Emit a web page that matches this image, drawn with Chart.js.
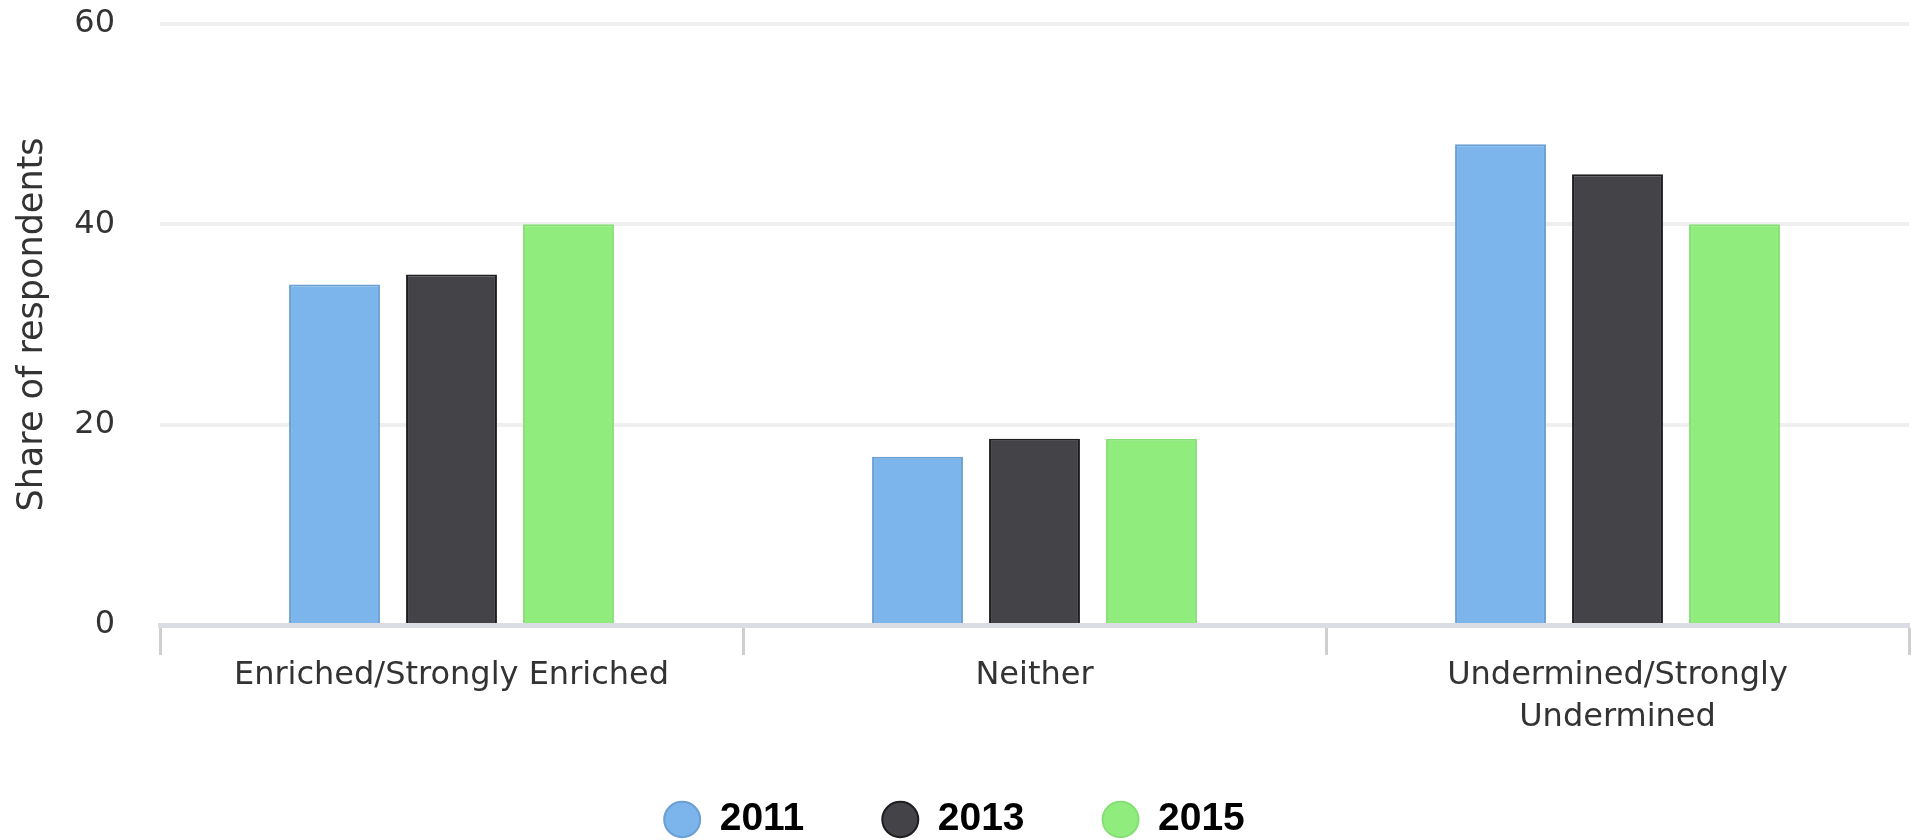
<!DOCTYPE html>
<html>
<head>
<meta charset="utf-8">
<title>Share of respondents</title>
<script src="https://cdn.jsdelivr.net/npm/chart.js@4"></script>
<style>
    html, body { margin: 0; padding: 0; background: #fff; }
    #wrap { width: 1919px; height: 840px; }
</style>
</head>
<body>
<div id="wrap"><canvas id="respChart"></canvas></div>
<script>
const categories = ['Enriched/Strongly Enriched', 'Neither', ['Undermined/Strongly', 'Undermined']];
const years = ['2011', '2013', '2015'];
const values2011 = [34, 16.8, 48];
const values2013 = [35, 18.6, 45];
const values2015 = [40, 18.6, 40];
const yTicks = [0, 20, 40, 60];

const colores = ['#7cb5ec', '#434348', '#90ed7d'];
const bordes = ['#6a9fd3', '#1e1e21', '#86df74'];

// la leyenda usa padding grande para separar los items, la subimos un poco
const subirLeyenda = {
    id: 'subirLeyenda',
    afterLayout(chart) {
        chart.legend.top -= 18;
    }
};

const ctx = document.getElementById('respChart');

new Chart(ctx.getContext('2d'), {
    type: 'bar',
    data: {
        labels: categories,
        datasets: [values2011, values2013, values2015].map((serie, i) => ({
            label: years[i],
            data: serie,
            backgroundColor: colores[i],
            borderColor: bordes[i],
            borderWidth: 2,
            categoryPercentage: 0.602,
            barPercentage: 0.777
        }))
    },
    plugins: [subirLeyenda],
    options: {
        responsive: true,
        maintainAspectRatio: false,
        animation: false,
        layout: {
            padding: { top: 24, right: 10, bottom: 0, left: 0 }
        },
        plugins: {
            tooltip: { enabled: false },
            legend: {
                position: 'bottom',
                maxHeight: 100,
                labels: {
                    usePointStyle: true,
                    pointStyle: 'circle',
                    pointStyleWidth: 36,
                    boxHeight: 25,
                    padding: 78,
                    color: '#000',
                    font: { family: 'Liberation Sans', size: 39, weight: 'bold' }
                }
            }
        },
        scales: {
            x: {
                grid: {
                    offset: true,
                    drawOnChartArea: false,
                    drawTicks: true,
                    tickLength: 30,
                    tickWidth: 3,
                    tickColor: '#cfcfcf'
                },
                border: { display: true, color: '#dcdde2', width: 5 },
                ticks: {
                    color: '#333',
                    padding: 0,
                    maxRotation: 0,
                    font: { family: 'DejaVu Sans', size: 32, lineHeight: 1.3 }
                },
                afterFit: (scale) => { scale.height = 115; }
            },
            y: {
                min: 0,
                max: 60,
                afterBuildTicks: (scale) => {
                    scale.ticks = yTicks.map(v => ({ value: v }));
                },
                grid: {
                    color: '#efefef',
                    lineWidth: 4,
                    drawTicks: false
                },
                border: { display: false },
                ticks: {
                    color: '#333',
                    padding: 45,
                    font: { family: 'DejaVu Sans', size: 32 }
                },
                title: {
                    display: true,
                    text: 'Share of respondents',
                    color: '#333',
                    padding: { top: 12, bottom: 0 },
                    font: { family: 'DejaVu Sans', size: 35 }
                },
                afterFit: (scale) => {
                    scale.width = 160;
                    scale.paddingTop = 0;
                    scale.paddingBottom = 0;
                }
            }
        }
    }
});
</script>
</body>
</html>
